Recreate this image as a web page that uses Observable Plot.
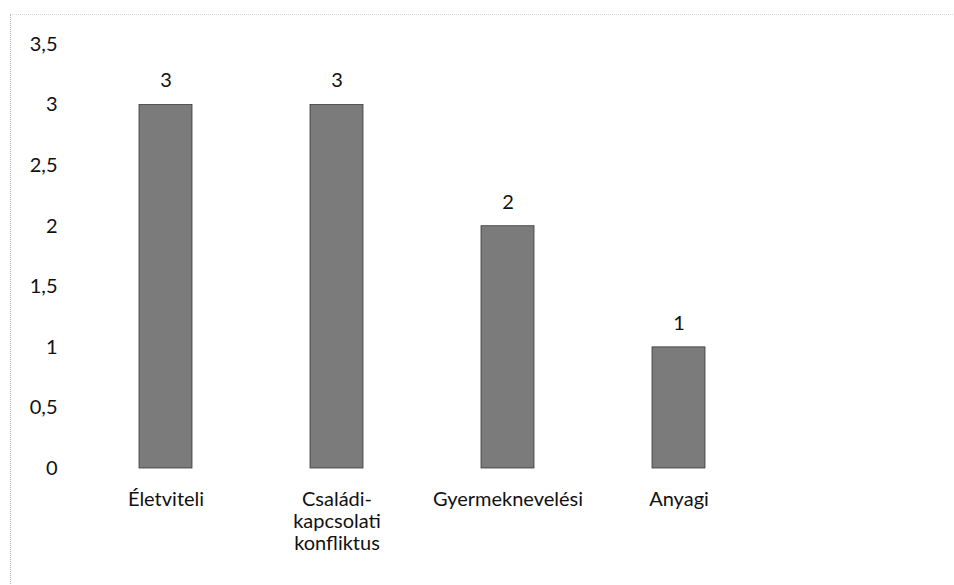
<!DOCTYPE html>
<html>
<head>
<meta charset="utf-8">
<script src="https://cdn.jsdelivr.net/npm/d3@7"></script>
<script src="https://cdn.jsdelivr.net/npm/@observablehq/plot@0.6"></script>
<style>
  html, body { margin: 0; padding: 0; background: #fff; }
  #chart { position: relative; width: 954px; height: 585px; }
  #chart svg { display: block; }
  #frame { position: absolute; left: 10px; top: 14px; width: 944px; height: 571px;
           border-left: 1px dotted #b0b0b0; border-top: 1px dotted #d8d8d8; pointer-events: none; }
</style>
</head>
<body>
<div id="chart"><div id="frame"></div></div>
<script>
const categories = ["Életviteli", "Családi-\nkapcsolati\nkonfliktus", "Gyermeknevelési", "Anyagi"];
const values = [3, 3, 2, 1];
const yTicks = [0, 0.5, 1, 1.5, 2, 2.5, 3, 3.5];

const data = categories.map((c, i) => ({category: c, value: values[i]}));
const fmt = v => String(v).replace(".", ",");

const chart = Plot.plot({
  width: 954,
  height: 585,
  marginLeft: 80,
  marginRight: 189,
  marginTop: 44,
  marginBottom: 117,
  style: {fontFamily: "Lato, 'Open Sans', sans-serif", fontSize: "20px", color: "#111", background: "#fff"},
  x: {domain: categories, paddingInner: 0.69, paddingOuter: 0.345, label: null},
  y: {domain: [0, 3.5], label: null},
  marks: [
    Plot.barY(data, {x: "category", y: "value", fill: "#7b7b7b", stroke: "#3a3a3a", strokeWidth: 0.8}),
    Plot.text(data, {x: "category", y: "value", text: d => fmt(d.value), dy: -24, fontSize: 20, fill: "#111"}),
    Plot.axisY({ticks: yTicks, tickFormat: fmt, tickSize: 0, tickPadding: 23, label: null, fontSize: 20}),
    Plot.axisX({tickSize: 0, tickPadding: 22, lineAnchor: "top", lineHeight: 1.1, label: null, fontSize: 20})
  ]
});
document.getElementById("chart").prepend(chart);
</script>
</body>
</html>
